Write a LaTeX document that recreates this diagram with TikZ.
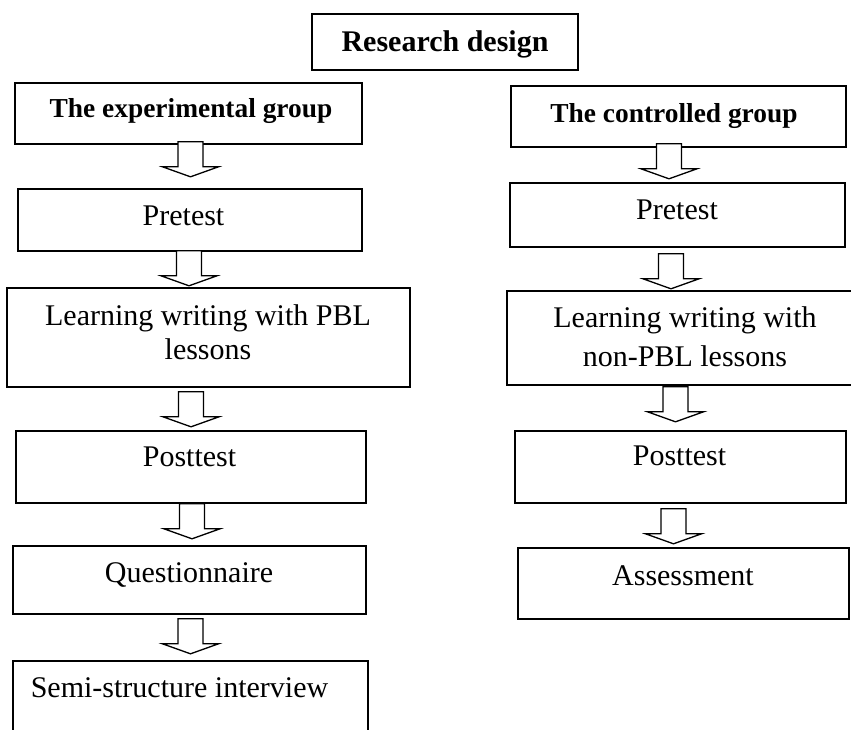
\documentclass[tikz,border=0pt]{standalone}
\usepackage{fontspec}
\setmainfont{Liberation Serif}
\usetikzlibrary{calc}
\begin{document}
\begin{tikzpicture}[x=1pt,y=-1pt,
  box/.style={draw, line width=1.6pt, rectangle, inner sep=0pt},
  txt/.style={inner sep=0pt, text depth=0pt, anchor=south, align=center,
              font=\fontsize{30}{34}\selectfont},
  head/.style={txt, font=\bfseries\fontsize{27.4}{32}\selectfont},
  arrowline/.style={draw, fill=white, line width=1.3pt, line join=miter},
  downarrow/.pic={
    \path[arrowline] (-12.5,0) -- (12.5,0) -- (12.5,25) -- (28,25)
      -- (0,35) -- (-28,25) -- (-12.5,25) -- cycle;
  }
]
\useasboundingbox (0,0) rectangle (851,729);
\clip (0,0) rectangle (851,729);

% boxes
\node[box, minimum width=266pt, minimum height=56pt] (title) at (445,42) {};
\node[box, minimum width=347pt, minimum height=61pt] (lexp) at (188.5,113.5) {};
\node[box, minimum width=335pt, minimum height=61pt] (rctl) at (678.5,116.5) {};
\node[box, minimum width=344pt, minimum height=62pt] (lpre) at (190,220) {};
\node[box, minimum width=335pt, minimum height=64pt] (rpre) at (677.5,215) {};
\node[box, minimum width=403pt, minimum height=99pt] (llearn) at (208.5,337.5) {};
\node[box, minimum width=373pt, minimum height=94pt] (rlearn) at (693.5,338) {};
\node[box, minimum width=350pt, minimum height=72pt] (lpost) at (191,467) {};
\node[box, minimum width=331pt, minimum height=72pt] (rpost) at (680.5,467) {};
\node[box, minimum width=353pt, minimum height=68pt] (lques) at (189.5,580) {};
\node[box, minimum width=331pt, minimum height=71pt] (rass) at (683.5,583.5) {};
\node[box, minimum width=355pt, minimum height=99pt] (lsemi) at (190.5,710.5) {};

% block arrows between the steps
\path (lexp.south)   ++(2,-3)    pic {downarrow};
\path (lpre.south)   ++(-1,-1)   pic {downarrow};
\path (llearn.south) ++(-17.5,4) pic {downarrow};
\path (lpost.south)  ++(1,0)     pic {downarrow};
\path (lques.south)  ++(1,4)     pic {downarrow};
\path (rctl.south)   ++(-9.5,-4) pic {downarrow};
\path (rpre.south)   ++(-6.5,6)  pic {downarrow};
\path (rlearn.south) ++(-18,1)   pic {downarrow};
\path (rpost.south)  ++(-7,5)    pic {downarrow};

% labels
\node[head, font=\bfseries\fontsize{30}{34}\selectfont] (title-t) at (445,52) {Research design};
\node[head] (lexp-t) at (191,118) {The experimental group};
\node[head] (rctl-t) at (674,123) {The controlled group};
\node[txt] (lpre-t) at (183.5,226) {Pretest};
\node[txt] (rpre-t) at (677,220) {Pretest};
\node[txt] (llearn-t) at (208,360) {Learning writing with PBL\\lessons};
\node[txt, font=\fontsize{30}{39}\selectfont] (rlearn-t) at (685,367) {Learning writing with\\non-PBL lessons};
\node[txt] (lpost-t) at (189.5,467) {Posttest};
\node[txt] (rpost-t) at (679.5,466) {Posttest};
\node[txt] (lques-t) at (189,583) {Questionnaire};
\node[txt] (rass-t) at (683,586) {Assessment};
\node[txt] (lsemi-t) at (179.5,698) {Semi-structure interview};
\end{tikzpicture}
\end{document}
